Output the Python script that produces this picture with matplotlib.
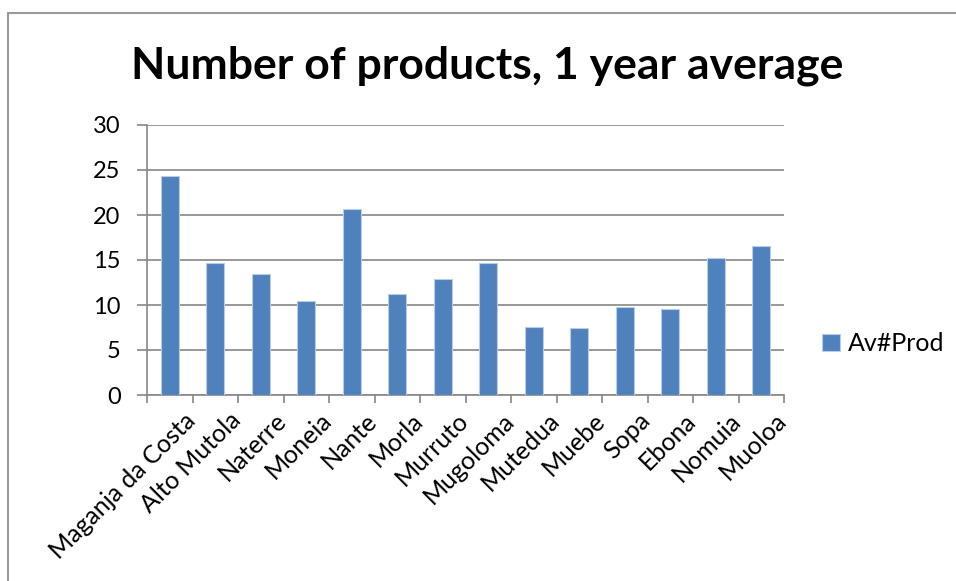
import matplotlib.pyplot as plt
import matplotlib.patches as mpatches

places = ['Maganja da Costa', 'Alto Mutola', 'Naterre', 'Moneia', 'Nante', 'Morla',
          'Murruto', 'Mugoloma', 'Mutedua', 'Muebe', 'Sopa', 'Ebona', 'Nomuia', 'Muoloa']
av_prod = [24.3, 14.7, 13.4, 10.5, 20.7, 11.2, 12.9, 14.7, 7.6, 7.4, 9.8, 9.6, 15.2, 16.5]
yticks = [0, 5, 10, 15, 20, 25, 30]

plt.rcParams['font.family'] = ['Lato', 'DejaVu Sans']
fig = plt.figure(figsize=(9.56, 5.81), dpi=100)
ax = fig.add_axes([147/956, 1-395/581, (784-147)/956, (395-125)/581])

# chart area border (runs off the right and bottom)
border = mpatches.Rectangle((8/956, -0.1), 1.2, 1-13/581+0.1, transform=fig.transFigure,
                            fill=False, edgecolor='#9a9a9a', linewidth=1.5)
fig.patches.append(border)

x = range(len(places))
ax.bar(x, av_prod, width=0.4, color='#4f81bd', edgecolor='#b9cde5', linewidth=0.8,
       label='Av#Prod', zorder=3)
ax.set_xlim(-0.5, len(places)-0.5)
ax.set_ylim(0, 30)
ax.set_yticks(yticks)
ax.tick_params(axis='y', labelsize=17, length=7, color='#888888', width=1.2, pad=12)
ax.yaxis.grid(True, color='#888888', linewidth=1.2, zorder=0)

ax.set_xticks([i - 0.5 for i in range(len(places)+1)])
ax.set_xticklabels([])
ax.tick_params(axis='x', length=6, color='#888888', width=1.2)
for i, name in enumerate(places):
    ax.text(i + 0.3, -1.5, name, rotation=45, ha='right', va='top', fontsize=18,
            rotation_mode='anchor')

for s in ['top', 'right']:
    ax.spines[s].set_visible(False)
for s in ['left', 'bottom']:
    ax.spines[s].set_color('#888888')
    ax.spines[s].set_linewidth(1.2)

fig.text(0.51, 1-66/581, 'Number of products, 1 year average', ha='center', va='center',
         fontsize=32, fontweight='bold')

ax.legend(loc='center left', bbox_to_anchor=(1.025, 0.19), frameon=False, fontsize=18,
          handlelength=0.7, handleheight=0.7, handletextpad=0.3)

fig.savefig('out.png', dpi=100)
